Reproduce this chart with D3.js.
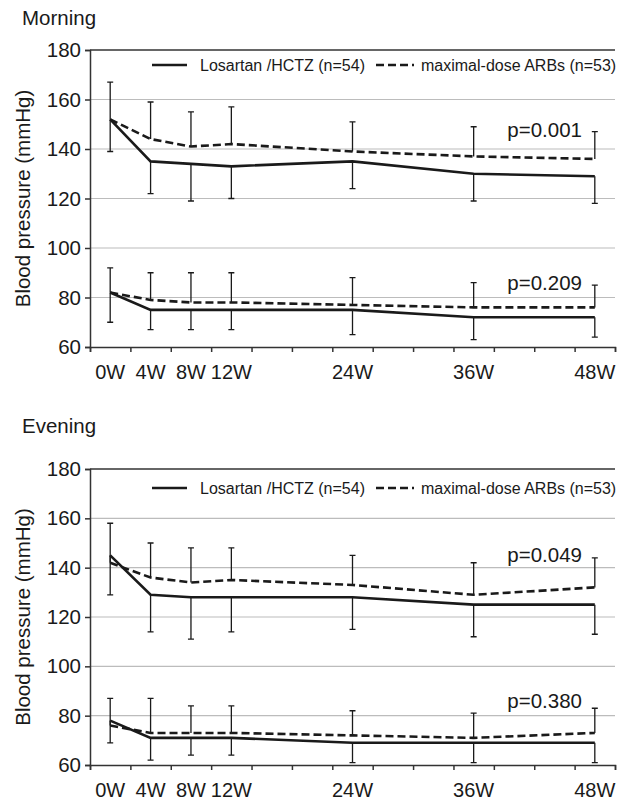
<!DOCTYPE html>
<html>
<head>
<meta charset="utf-8">
<script src="https://cdn.jsdelivr.net/npm/d3@7"></script>
<style>
  body { margin: 0; background: #fff; }
  svg { font-family: "Liberation Sans", Arial, sans-serif; }
</style>
</head>
<body>
<svg width="624" height="800"></svg>
<script>
// weeks measured and their labels
const weeks = [0, 4, 8, 12, 24, 36, 48];
const weekLabels = ["0W", "4W", "8W", "12W", "24W", "36W", "48W"];
const yTicks = [60, 80, 100, 120, 140, 160, 180];
const seriesNames = ["Losartan /HCTZ (n=54)", "maximal-dose ARBs (n=53)"];

// Morning
const morningSysLosartan = [152, 135, 134, 133, 135, 130, 129];
const morningSysLosartanLow = [139, 122, 119, 120, 124, 119, 118];
const morningSysArb = [152, 144, 141, 142, 139, 137, 136];
const morningSysArbHigh = [167, 159, 155, 157, 151, 149, 147];
const morningDiaLosartan = [82, 75, 75, 75, 75, 72, 72];
const morningDiaLosartanLow = [70, 67, 67, 67, 65, 63, 64];
const morningDiaArb = [82, 79, 78, 78, 77, 76, 76];
const morningDiaArbHigh = [92, 90, 90, 90, 88, 86, 85];
const morningP = ["p=0.001", "p=0.209"];

// Evening
const eveningSysLosartan = [145, 129, 128, 128, 128, 125, 125];
const eveningSysLosartanLow = [129, 114, 111, 114, 115, 112, 113];
const eveningSysArb = [142, 136, 134, 135, 133, 129, 132];
const eveningSysArbHigh = [158, 150, 148, 148, 145, 142, 144];
const eveningDiaLosartan = [78, 71, 71, 71, 69, 69, 69];
const eveningDiaLosartanLow = [69, 62, 64, 64, 61, 61, 61];
const eveningDiaArb = [76, 73, 73, 73, 72, 71, 73];
const eveningDiaArbHigh = [87, 87, 84, 84, 82, 81, 83];
const eveningP = ["p=0.049", "p=0.380"];

const svg = d3.select("svg");
const ink = "#1a1a1a";

// band edges every 4 weeks, points sit in the middle of each band
const x = d3.scaleLinear().domain([-2, 50]).range([90, 615]);
const bandEdges = d3.range(-2, 51, 4);

function drawPanel(p) {
  const y = d3.scaleLinear().domain([60, 180]).range([p.bottom, p.top]);
  const g = svg.append("g");

  g.append("text")
    .attr("x", 22).attr("y", p.titleY)
    .attr("fill", ink).style("font-size", "20.5px")
    .text(p.title);

  // grid
  g.selectAll(".grid")
    .data(yTicks.filter(t => t > 60 && t < 180))
    .join("line")
    .attr("x1", x(-2)).attr("x2", x(50))
    .attr("y1", d => y(d)).attr("y2", d => y(d))
    .attr("stroke", "#bcbcbc").attr("stroke-width", 1.2);

  g.append("line")
    .attr("x1", x(-2)).attr("x2", x(50))
    .attr("y1", y(180)).attr("y2", y(180))
    .attr("stroke", "#333").attr("stroke-width", 1.5);

  // y axis
  const yAxis = g.append("g")
    .attr("transform", `translate(${x(-2)},0)`)
    .call(d3.axisLeft(y).tickValues(yTicks).tickSize(5).tickPadding(4));
  yAxis.select(".domain").attr("stroke", "#333").attr("stroke-width", 1.5);
  yAxis.selectAll(".tick line").attr("stroke", "#333").attr("stroke-width", 1.5);
  yAxis.selectAll("text").attr("fill", ink).style("font-size", "20.5px")
    .style("font-family", "Liberation Sans, Arial, sans-serif");

  // x axis: tick marks at band edges, labels at the measured weeks
  const xAxis = g.append("g")
    .attr("transform", `translate(0,${p.bottom})`)
    .call(d3.axisBottom(x).tickValues(bandEdges).tickSize(5).tickFormat(""));
  xAxis.select(".domain").attr("stroke", "#333").attr("stroke-width", 1.5);
  xAxis.selectAll(".tick line").attr("stroke", "#333").attr("stroke-width", 1.5);

  g.selectAll(".xlab")
    .data(weeks)
    .join("text")
    .attr("x", d => x(d)).attr("y", p.bottom + 32)
    .attr("text-anchor", "middle")
    .attr("fill", ink).style("font-size", "20px")
    .text((d, i) => weekLabels[i]);

  g.append("text")
    .attr("transform", `translate(30,${(p.top + p.bottom) / 2}) rotate(-90)`)
    .attr("text-anchor", "middle")
    .attr("fill", ink).style("font-size", "20.5px")
    .text("Blood pressure (mmHg)");

  const line = d3.line()
    .x((d, i) => x(weeks[i]))
    .y(d => y(d));

  p.groups.forEach(grp => {
    // error bars: ARB goes up, Losartan goes down
    const bars = [];
    weeks.forEach((w, i) => {
      bars.push({w, from: grp.arb[i], to: grp.arbHigh[i]});
      bars.push({w, from: grp.los[i], to: grp.losLow[i]});
    });
    g.selectAll(null)
      .data(bars)
      .join("path")
      .attr("d", d => `M${x(d.w)},${y(d.from)}V${y(d.to)}M${x(d.w) - 3},${y(d.to)}H${x(d.w) + 3}`)
      .attr("fill", "none").attr("stroke", ink).attr("stroke-width", 1.3);

    g.append("path")
      .datum(grp.arb)
      .attr("d", line)
      .attr("fill", "none").attr("stroke", ink)
      .attr("stroke-width", 2.6).attr("stroke-dasharray", "8,4");

    g.append("path")
      .datum(grp.los)
      .attr("d", line)
      .attr("fill", "none").attr("stroke", ink)
      .attr("stroke-width", 2.6);

    g.append("text")
      .attr("x", 582).attr("y", y(grp.pAt))
      .attr("text-anchor", "end")
      .attr("fill", ink).style("font-size", "20.5px")
      .text(grp.p);
  });

  // legend
  const ly = p.top + p.legendDy;
  g.append("line")
    .attr("x1", 152).attr("x2", 187).attr("y1", ly).attr("y2", ly)
    .attr("stroke", ink).attr("stroke-width", 2.6);
  g.append("text")
    .attr("x", 200).attr("y", ly + 5.5)
    .attr("fill", ink).style("font-size", "16px")
    .text(seriesNames[0]);
  g.append("line")
    .attr("x1", 376).attr("x2", 414).attr("y1", ly).attr("y2", ly)
    .attr("stroke", ink).attr("stroke-width", 2.6).attr("stroke-dasharray", "8,4");
  g.append("text")
    .attr("x", 421).attr("y", ly + 5.5)
    .attr("fill", ink).style("font-size", "16px")
    .text(seriesNames[1]);
}

drawPanel({
  title: "Morning", titleY: 25, top: 50, bottom: 347, legendDy: 15,
  groups: [
    {los: morningSysLosartan, losLow: morningSysLosartanLow, arb: morningSysArb, arbHigh: morningSysArbHigh, p: morningP[0], pAt: 144.7},
    {los: morningDiaLosartan, losLow: morningDiaLosartanLow, arb: morningDiaArb, arbHigh: morningDiaArbHigh, p: morningP[1], pAt: 83.2}
  ]
});

drawPanel({
  title: "Evening", titleY: 433, top: 469, bottom: 765, legendDy: 19,
  groups: [
    {los: eveningSysLosartan, losLow: eveningSysLosartanLow, arb: eveningSysArb, arbHigh: eveningSysArbHigh, p: eveningP[0], pAt: 142.4},
    {los: eveningDiaLosartan, losLow: eveningDiaLosartanLow, arb: eveningDiaArb, arbHigh: eveningDiaArbHigh, p: eveningP[1], pAt: 83}
  ]
});
</script>
</body>
</html>
